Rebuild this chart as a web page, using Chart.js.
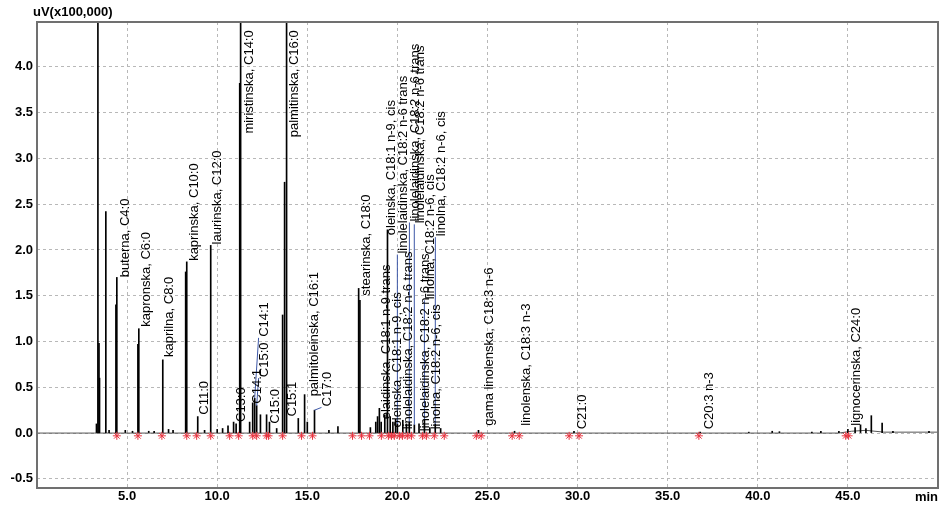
<!DOCTYPE html>
<html>
<head>
<meta charset="utf-8">
<script src="https://cdn.jsdelivr.net/npm/chart.js@4.4.0/dist/chart.umd.min.js"></script>
<style>
  html, body { margin: 0; padding: 0; background: #fff; }
  #wrap { width: 943px; height: 508px; position: relative; }
</style>
</head>
<body>
<div id="wrap"><canvas id="chromatogram"></canvas></div>
<script>
// axis ticks
const xTicks = [5, 10, 15, 20, 25, 30, 35, 40, 45];
const yTicks = [-0.5, 0, 0.5, 1.0, 1.5, 2.0, 2.5, 3.0, 3.5, 4.0];

// peaks: retention time (min) and height (uV x100,000)
const peakTimes = [3.30, 3.38, 3.44, 3.47, 3.82, 4.00, 4.38, 4.43, 4.90, 5.30, 5.60, 5.65, 6.20, 6.50, 6.98, 7.30, 7.55,
  8.25, 8.31, 8.92, 9.30, 9.64, 10.00, 10.30, 10.60, 10.91, 11.05, 11.25, 11.30, 11.80, 11.97, 12.08, 12.19, 12.40,
  12.74, 12.90, 13.30, 13.63, 13.74, 13.85, 14.50, 14.85, 15.00, 15.40, 16.20, 16.70, 17.85, 17.92, 18.50, 18.80,
  18.90, 19.00, 19.10, 19.30, 19.45, 19.60, 19.75, 19.90, 20.00, 20.30, 20.50, 20.66, 20.94, 21.20, 21.50, 21.80,
  22.10, 22.40, 24.50, 26.50, 29.80, 36.80, 39.50, 40.80, 41.20, 43.00, 43.50, 44.50, 45.00, 45.40, 45.70, 46.00,
  46.30, 46.90, 47.50, 49.50];
const peakHeights = [0.10, 6.0, 0.98, 0.60, 2.42, 0.03, 1.40, 1.70, 0.03, 0.02, 0.97, 1.14, 0.02, 0.02, 0.80, 0.04, 0.03,
  1.76, 1.87, 0.18, 0.03, 2.05, 0.04, 0.05, 0.08, 0.12, 0.10, 3.82, 6.0, 0.12, 0.33, 0.38, 0.30, 0.20,
  0.20, 0.12, 0.05, 1.29, 2.74, 6.0, 0.16, 0.42, 0.12, 0.25, 0.03, 0.07, 1.58, 1.45, 0.06, 0.12,
  0.18, 0.27, 0.12, 0.20, 2.22, 0.18, 0.12, 0.15, 0.10, 0.14, 0.10, 0.12, 0.09, 0.10, 0.15, 0.06,
  0.10, 0.05, 0.03, 0.02, 0.02, 0.01, 0.01, 0.02, 0.015, 0.01, 0.02, 0.02, 0.04, 0.06, 0.09, 0.05,
  0.19, 0.11, 0.02, 0.02];

// baseline of the trace
const baseTimes = [0, 3.2, 44.5, 45.2, 46.0, 47.0, 50];
const baseValues = [0, 0, 0, 0.02, 0.03, 0.01, 0.01];

// integration marks (peak start / end)
const markTimes = [4.43, 5.60, 6.93, 8.31, 8.86, 9.64, 10.69, 11.19, 11.97, 12.19, 12.74, 12.85, 13.63, 14.68, 15.29,
  17.51, 18.01, 18.45, 19.11, 19.50, 19.67, 19.83, 20.11, 20.28, 20.55, 20.78, 21.39, 21.61, 22.05, 22.60,
  24.38, 24.65, 26.37, 26.76, 29.53, 30.08, 36.73, 44.88, 45.04];

// peak names, where each name sits (min, level) and the peak a leader line starts from
const labelNames = ["buterna, C4:0", "kapronska, C6:0", "kaprilna, C8:0", "kaprinska, C10:0", "C11:0",
  "laurinska, C12:0", "C13:0", "miristinska, C14:0", "C14:1", "C14:1", "C15:0", "C15:0", "C15:1",
  "palmitinska, C16:0", "palmitoleinska, C16:1", "C17:0", "stearinska, C18:0",
  "elaidinska, C18:1 n-9 trans", "oleinska, C18:1 n-9, cis", "oleinska, C18:1 n-9, cis",
  "linolelaidinska, C18:2 n-6 trans", "linolelaidinska, C18:2 n-6 trans", "linolelaidinska, C18:2 n-6 trans",
  "linolelaidinska, C18:2 n-6 trans", "linolelaidinska, C18:2 n-6 trans", "linolna, C18:2 n-6, cis",
  "linolna, C18:2 n-6, cis", "linolna, C18:2 n-6, cis", "gama linolenska, C18:3 n-6",
  "linolenska, C18:3 n-3", "C21:0", "C20:3 n-3", "lignocerinska, C24:0"];
const labelTimes = [4.88, 6.09, 7.37, 8.75, 9.31, 10.03, 11.36, 11.80, 12.24, 12.63, 12.63, 13.24, 14.18,
  14.29, 15.40, 16.12, 18.28, 19.39, 19.67, 20.00, 20.33, 20.61, 21.00, 21.27, 21.55, 21.83,
  22.16, 22.44, 25.10, 27.15, 30.25, 37.29, 45.48];
const labelLevels = [1.69, 1.15, 0.82, 1.87, 0.19, 2.05, 0.11, 3.26, 0.31, 1.04, 0.60, 0.09, 0.17,
  3.22, 0.39, 0.28, 1.49, 0.14, 2.15, 0.05, 1.95, 0.03, 2.30, 2.28, 0.01, 1.45,
  0.03, 2.14, 0.07, 0.07, 0.03, 0.03, 0.07];
const leaderTimes = [null, null, null, null, null, null, null, null, null, 12.08, 12.19, null, null,
  null, null, 15.40, null, null, null, null, 20.00, null, 20.66, 20.94, null, 21.50,
  null, 22.10, null, null, null, null, null];
const leaderLevels = [null, null, null, null, null, null, null, null, null, 0.38, 0.30, null, null,
  null, null, 0.25, null, null, null, null, 0.10, null, 0.12, 0.09, null, 0.15,
  null, 0.10, null, null, null, null, null];

const peaks = peakTimes.map((t, i) => ({ x: t, y: peakHeights[i] }));
const baseline = baseTimes.map((t, i) => ({ x: t, y: baseValues[i] }));
const marks = markTimes.map((t) => ({ x: t, y: -0.03 }));

const fontFamily = "'Liberation Sans', Arial, sans-serif";

// names, leader lines, frame and unit texts
const peakLabels = {
  id: "peakLabels",
  afterDatasetsDraw(chart) {
    const { ctx, chartArea, scales } = chart;
    const x = scales.x;
    const y = scales.y;
    ctx.save();

    ctx.strokeStyle = "#3b56a6";
    ctx.lineWidth = 1;
    for (let i = 0; i < labelNames.length; i++) {
      if (leaderTimes[i] === null) continue;
      ctx.beginPath();
      ctx.moveTo(x.getPixelForValue(leaderTimes[i]), y.getPixelForValue(leaderLevels[i]));
      ctx.lineTo(x.getPixelForValue(labelTimes[i]) - 6, y.getPixelForValue(labelLevels[i]));
      ctx.stroke();
    }

    ctx.fillStyle = "#000";
    ctx.font = "13px " + fontFamily;
    ctx.textAlign = "left";
    ctx.textBaseline = "middle";
    for (let i = 0; i < labelNames.length; i++) {
      ctx.save();
      ctx.translate(x.getPixelForValue(labelTimes[i]), y.getPixelForValue(labelLevels[i]) - 1);
      ctx.rotate(-Math.PI / 2);
      ctx.fillText(labelNames[i], 0, 0);
      ctx.restore();
    }

    ctx.strokeStyle = "#707070";
    ctx.lineWidth = 2;
    ctx.strokeRect(chartArea.left, chartArea.top, chartArea.right - chartArea.left, chartArea.bottom - chartArea.top);

    ctx.font = "bold 13px " + fontFamily;
    ctx.textBaseline = "middle";
    ctx.textAlign = "left";
    ctx.fillText("uV(x100,000)", chartArea.left - 4, chartArea.top - 10);
    ctx.textAlign = "right";
    ctx.fillText("min", chartArea.right, chartArea.bottom + 9);
    ctx.restore();
  },
};

const ctx = document.getElementById("chromatogram").getContext("2d");
new Chart(ctx, {
  type: "bar",
  data: {
    datasets: [
      {
        type: "line",
        data: baseline,
        borderColor: "#555",
        borderWidth: 1,
        pointRadius: 0,
        order: 3,
      },
      {
        type: "bar",
        data: peaks,
        backgroundColor: "#000",
        barThickness: 1,
        clip: 0,
        order: 2,
      },
      {
        type: "scatter",
        data: marks,
        pointStyle: "star",
        pointRadius: 4,
        borderColor: "#e8333f",
        borderWidth: 1,
        order: 1,
      },
    ],
  },
  options: {
    responsive: true,
    maintainAspectRatio: false,
    animation: false,
    layout: { padding: { top: 22, right: 5, left: 0, bottom: 0 } },
    plugins: {
      legend: { display: false },
      tooltip: { enabled: false },
    },
    scales: {
      x: {
        type: "linear",
        min: 0,
        max: 50,
        offset: false,
        afterBuildTicks: (scale) => {
          scale.ticks = xTicks.map((v) => ({ value: v }));
        },
        afterFit: (scale) => {
          scale.height = 20;
        },
        ticks: {
          callback: (v) => v.toFixed(1),
          color: "#000",
          font: { family: fontFamily, size: 13, weight: "bold" },
          maxRotation: 0,
          padding: 1,
        },
        grid: { color: "#b8b8b8", drawTicks: false, offset: false },
        border: { display: false, dash: [3, 3] },
      },
      y: {
        min: -0.6,
        max: 4.49,
        afterBuildTicks: (scale) => {
          scale.ticks = yTicks.map((v) => ({ value: v }));
        },
        afterFit: (scale) => {
          scale.width = 37;
        },
        ticks: {
          callback: (v) => v.toFixed(1),
          color: "#000",
          font: { family: fontFamily, size: 13, weight: "bold" },
          padding: 4,
        },
        grid: { color: "#b8b8b8", drawTicks: false },
        border: { display: false, dash: [3, 3] },
      },
    },
  },
  plugins: [peakLabels],
});
</script>
</body>
</html>
